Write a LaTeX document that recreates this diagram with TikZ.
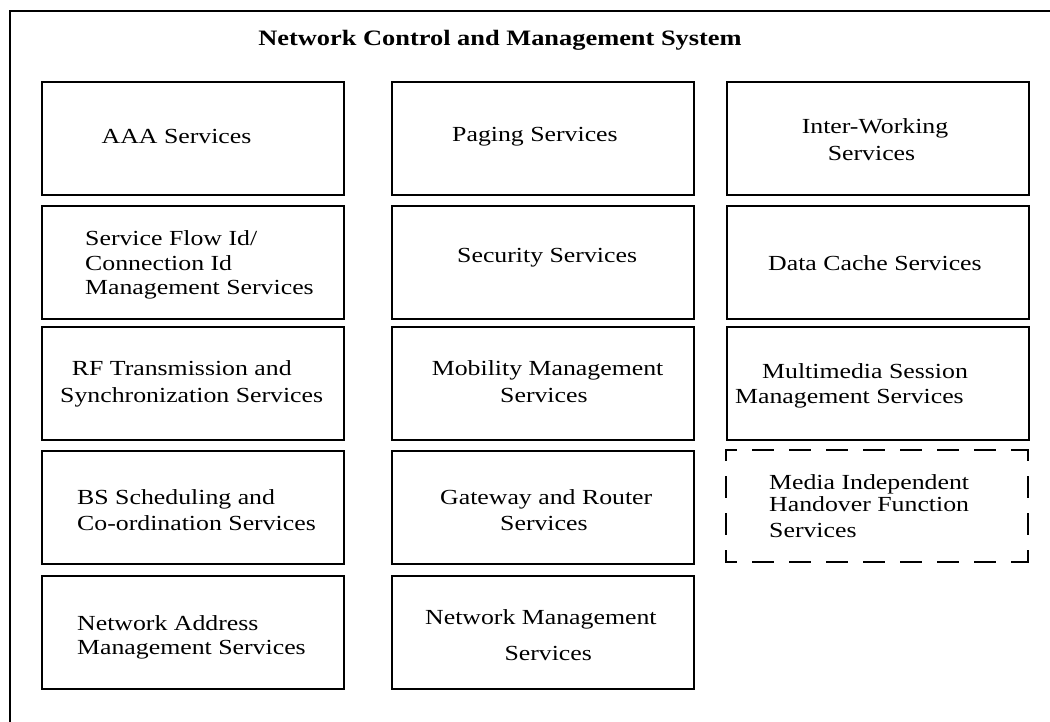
\documentclass[tikz,border=0pt]{standalone}
\usepackage{fontspec}
\setmainfont{Liberation Serif}[FakeStretch=1.2]
\begin{document}
\begin{tikzpicture}[x=1pt,y=-1pt,
  frame/.style={line width=2pt},
  box/.style={draw, line width=2pt, minimum width=302pt, minimum height=113pt, inner sep=0pt, anchor=north west},
  ghost/.style={draw=none, minimum width=302pt, minimum height=112.5pt, inner sep=0pt, anchor=north west},
  dsh/.style={line width=2pt, dash pattern=on 20pt off 17pt, dash phase=0pt, line cap=rect},
  txt/.style={font=\fontsize{21.5}{24.5}\selectfont, inner sep=0pt, anchor=base west},
  ttl/.style={font=\fontsize{22}{26}\selectfont\bfseries, inner sep=0pt, anchor=base}]
\useasboundingbox (0,0) rectangle (1050,721);
\coordinate (fr) at (1060,11);
\coordinate (fc) at (10,11);
\coordinate (fb) at (10,730);
\draw[frame] (fr) -- (fc) -- (fb);
\node[ttl] (title) at (500,45.7) {Network Control and Management System};
% column 1
\node[box] (aaa) at (41,81) {};
\node[box] (sfid) at (41,204.5) {};
\node[box] (rf) at (41,326) {};
\node[box] (bs) at (41,449.5) {};
\node[box] (naddr) at (41,574.5) {};
% column 2
\node[box] (paging) at (391,81) {};
\node[box] (sec) at (391,204.5) {};
\node[box] (mob) at (391,326) {};
\node[box] (gw) at (391,449.5) {};
\node[box] (nm) at (391,574.5) {};
% column 3
\node[box] (iw) at (726,81) {};
\node[box] (dc) at (726,204.5) {};
\node[box] (mm) at (726,326) {};
\node[ghost] (mih) at (726,449.5) {};
\draw[dsh, dash phase=10pt] (mih.north west) -- (mih.north east);
\draw[dsh, dash phase=10pt] (mih.south west) -- (mih.south east);
\draw[dsh, dash phase=10pt] (mih.north west) -- (mih.south west);
\draw[dsh, dash phase=10pt] (mih.north east) -- (mih.south east);
% texts
\node[txt] (t-aaa) at (101.5,143) {AAA Services};
\node[txt] (t-pag) at (452,141) {Paging Services};
\node[txt, anchor=base] (t-iw1) at (875,133) {Inter-Working};
\node[txt, anchor=base] (t-iw2) at (871.5,160) {Services};
\node[txt] (t-sf1) at (85,245) {Service Flow Id/};
\node[txt] (t-sf2) at (85,270) {Connection Id};
\node[txt] (t-sf3) at (85,294) {Management Services};
\node[txt] (t-sec) at (457,262.5) {Security Services};
\node[txt] (t-dc) at (768,270) {Data Cache Services};
\node[txt] (t-rf1) at (71.7,375) {RF Transmission and};
\node[txt] (t-rf2) at (60,402) {Synchronization Services};
\node[txt] (t-mob1) at (431.7,375.7) {Mobility Management};
\node[txt] (t-mob2) at (500,402.7) {Services};
\node[txt] (t-mm1) at (762,378) {Multimedia Session};
\node[txt] (t-mm2) at (735,403) {Management Services};
\node[txt] (t-bs1) at (77,504) {BS Scheduling and};
\node[txt] (t-bs2) at (77,530) {Co-ordination Services};
\node[txt] (t-gw1) at (440,504) {Gateway and Router};
\node[txt] (t-gw2) at (500,530.7) {Services};
\node[txt] (t-mih1) at (769,489.3) {Media Independent};
\node[txt] (t-mih2) at (769,511.7) {Handover Function};
\node[txt] (t-mih3) at (769,537.3) {Services};
\node[txt] (t-na1) at (77,630) {Network Address};
\node[txt] (t-na2) at (77,654.3) {Management Services};
\node[txt] (t-nm1) at (425,624.3) {Network Management};
\node[txt] (t-nm2) at (504.3,660) {Services};
\end{tikzpicture}
\end{document}
